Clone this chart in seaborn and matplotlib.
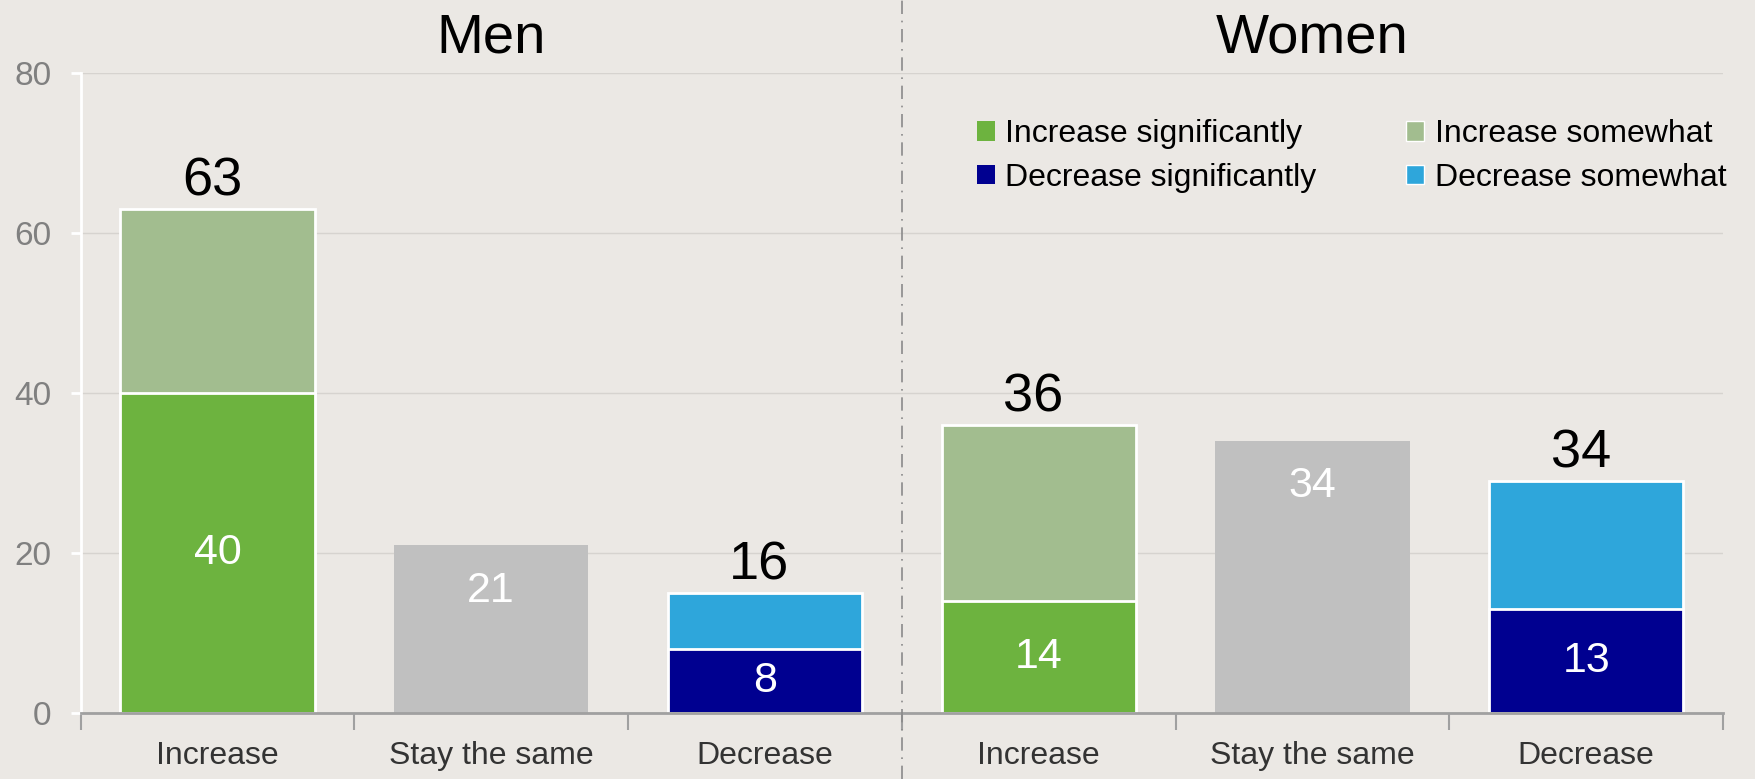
import matplotlib
matplotlib.use("Agg")
import matplotlib.pyplot as plt
import matplotlib.transforms as mtransforms
from matplotlib.lines import Line2D
from matplotlib.patches import Patch
import seaborn as sns
import pandas as pd

# ---------------- data ----------------
groups = ["Men", "Women"]
categories = ["Increase", "Stay the same", "Decrease"]
significant = [40, 21, 8, 14, 34, 13]          # bottom segment (or whole bar for "Stay the same")
somewhat = [23, 0, 7, 22, 0, 16]               # top segment
inner_labels = ["40", "21", "8", "14", "34", "13"]
total_labels = ["63", "", "16", "36", "", "34"]
legend_labels = ["Increase significantly", "Decrease significantly",
                 "Increase somewhat", "Decrease somewhat"]

# ---------------- style ----------------
BG = "#ebe8e4"
C_INC_SIG = "#6db33f"
C_INC_SOME = "#a2bd8f"
C_DEC_SIG = "#000090"
C_DEC_SOME = "#2ea6db"
C_STAY = "#c0c0c0"
base_colors = [C_INC_SIG, C_STAY, C_DEC_SIG] * 2
top_colors = [C_INC_SOME, C_STAY, C_DEC_SOME] * 2

sns.set_theme(style="white")
plt.rcParams["font.family"] = ["Liberation Sans", "DejaVu Sans"]

slots = [f"{g} {c}" for g in groups for c in categories]
df = pd.DataFrame({
    "slot": pd.Categorical(slots, categories=slots, ordered=True),
    "base": significant,
    "total": [a + b for a, b in zip(significant, somewhat)],
})

fig = plt.figure(figsize=(17.55, 7.79), dpi=100, facecolor=BG)
ax = fig.add_axes([0.0459, 0.0847, 0.9359, 0.822])
ax.set_facecolor(BG)

sns.barplot(data=df, x="slot", y="total", hue="slot",
            palette=dict(zip(slots, top_colors)), width=0.71,
            saturation=1, legend=False, ax=ax, zorder=2)
sns.barplot(data=df, x="slot", y="base", hue="slot",
            palette=dict(zip(slots, base_colors)), width=0.71,
            saturation=1, legend=False, ax=ax, zorder=3)

for i, p in enumerate(ax.patches):
    idx = i % len(slots)
    if somewhat[idx] > 0:
        p.set_edgecolor("white")
        p.set_linewidth(2)
    else:
        p.set_edgecolor("none")

# axes
ax.set_xlim(-0.5, len(slots) - 0.5)
ax.set_ylim(0, 80)
ax.set_yticks([0, 20, 40, 60, 80])
ax.set_xlabel("")
ax.set_ylabel("")
ax.yaxis.grid(True, color="#d6d3cf", linewidth=1)
ax.set_axisbelow(True)
for s in ["top", "right"]:
    ax.spines[s].set_visible(False)
ax.spines["left"].set_color("white")
ax.spines["left"].set_linewidth(2)
ax.spines["bottom"].set_color("#a0a0a0")
ax.spines["bottom"].set_linewidth(2)
ax.spines["bottom"].set_zorder(4)

ax.tick_params(axis="y", colors="white", length=7, width=2, pad=14,
               labelsize=24, labelcolor="#808080", left=True)
# boundaries as major ticks, labels at centres as minor ticks
ax.set_xticks([i - 0.5 for i in range(len(slots) + 1)])
ax.set_xticklabels([])
ax.set_xticks(range(len(slots)), minor=True)
ax.set_xticklabels(categories * 2, minor=True)
ax.tick_params(axis="x", which="major", direction="out", length=12,
               width=1.5, color="#a0a0a0", bottom=True)
ax.tick_params(axis="x", which="minor", length=0, pad=20,
               labelsize=23, labelcolor="#333333")

# value labels
for i in range(len(slots)):
    tot = significant[i] + somewhat[i]
    if somewhat[i] > 0:
        ax.text(i, significant[i] / 2, inner_labels[i], ha="center",
                va="center", color="white", fontsize=31, zorder=5)
    else:
        ax.text(i, significant[i] - 5.7, inner_labels[i], ha="center",
                va="center", color="white", fontsize=31, zorder=5)
    if total_labels[i]:
        ax.text(i - 0.02, tot + 3.4, total_labels[i], ha="center", va="center",
                color="black", fontsize=39, zorder=5)

# group titles
for gi, g in enumerate(groups):
    ax.text(gi * 3 + 1, 1.053, g, transform=mtransforms.blended_transform_factory(
        ax.transData, ax.transAxes), ha="center", va="center",
        fontsize=40.5, color="black")

# separator
trans = mtransforms.blended_transform_factory(ax.transData, fig.transFigure)
fig.add_artist(Line2D([2.5, 2.5], [0, 1], transform=trans,
                      color="#8a8a8a", linewidth=1.2, linestyle=(0, (8, 4, 1, 4))))

# legend (column-major order so rows read Increase / Decrease)
handles = [Patch(facecolor=C_INC_SIG, edgecolor="none"),
           Patch(facecolor=C_DEC_SIG, edgecolor="none"),
           Patch(facecolor=C_INC_SOME, edgecolor="white"),
           Patch(facecolor=C_DEC_SOME, edgecolor="white")]
fig.legend(handles, legend_labels, ncol=2, loc="upper left",
           bbox_to_anchor=(0.5567, 0.847), frameon=False, fontsize=23,
           labelcolor="black",
           handlelength=0.55, handleheight=0.55, handletextpad=0.34,
           columnspacing=2.8, labelspacing=0.42, borderpad=0,
           borderaxespad=0)

fig.savefig("out.png", dpi=100, facecolor=BG)
